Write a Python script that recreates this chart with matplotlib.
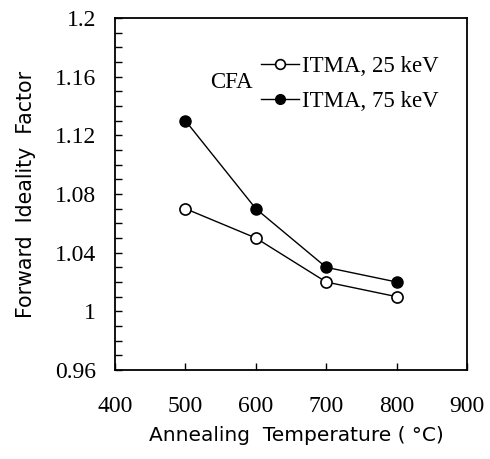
import matplotlib
matplotlib.use("Agg")
import matplotlib.pyplot as plt
from matplotlib.ticker import MultipleLocator, FuncFormatter

plt.rcParams["font.family"] = "serif"
plt.rcParams["font.serif"] = ["Liberation Serif", "DejaVu Serif"]

temps = [500, 600, 700, 800]
itma_25 = [1.07, 1.05, 1.02, 1.01]
itma_75 = [1.13, 1.07, 1.03, 1.02]
labels = ["ITMA, 25 keV", "ITMA, 75 keV"]
x_ticks = [400, 500, 600, 700, 800, 900]
y_ticks = [0.96, 1.0, 1.04, 1.08, 1.12, 1.16, 1.2]

fig = plt.figure(figsize=(4.9, 4.59), dpi=100)
ax = fig.add_axes([115/490, 1 - 370/459, (467-115)/490, (370-18)/459])

ax.plot(temps, itma_25, color="black", lw=1, marker="o", ms=8, mfc="white", mec="black", mew=1.2, label=labels[0])
ax.plot(temps, itma_75, color="black", lw=1, marker="o", ms=8, mfc="black", mec="black", label=labels[1])

ax.set_xlim(400, 900)
ax.set_ylim(0.96, 1.2)
ax.set_xticks(x_ticks)
ax.set_yticks(y_ticks)
ax.yaxis.set_minor_locator(MultipleLocator(0.01))
ax.yaxis.set_major_formatter(FuncFormatter(lambda v, p: ("%.2f" % v).rstrip("0").rstrip(".")))
ax.tick_params(axis="both", which="both", direction="in", top=False, right=False, width=1, labelsize=17)
ax.tick_params(axis="both", which="major", length=5)
ax.tick_params(axis="y", which="minor", length=5)
ax.tick_params(axis="x", pad=19)
ax.tick_params(axis="y", pad=13.5)
for s in ax.spines.values():
    s.set_linewidth(1.3)

ax.set_xlabel("Annealing  Temperature ( \u00b0C)", family="DejaVu Sans", fontsize=14.5, labelpad=6)
ax.xaxis.set_label_coords((296.5 - 115) / 352, -0.158)
ax.set_ylabel("Forward  Ideality  Factor", family="DejaVu Sans", fontsize=14.8, labelpad=14)

ax.text(253/490, 1 - 82/459, "CFA", transform=fig.transFigure, fontsize=16.5, ha="right", va="center")
leg = ax.legend(loc="upper left", bbox_to_anchor=(261/490, 1 - 56/459), bbox_transform=fig.transFigure,
                frameon=False, prop={"size": 16.5}, handlelength=1.65,
                handletextpad=0.15, labelspacing=0.6, borderpad=0, borderaxespad=0)
for h in leg.legend_handles:
    h.set_markersize(7)

fig.savefig("out.png", dpi=100)
